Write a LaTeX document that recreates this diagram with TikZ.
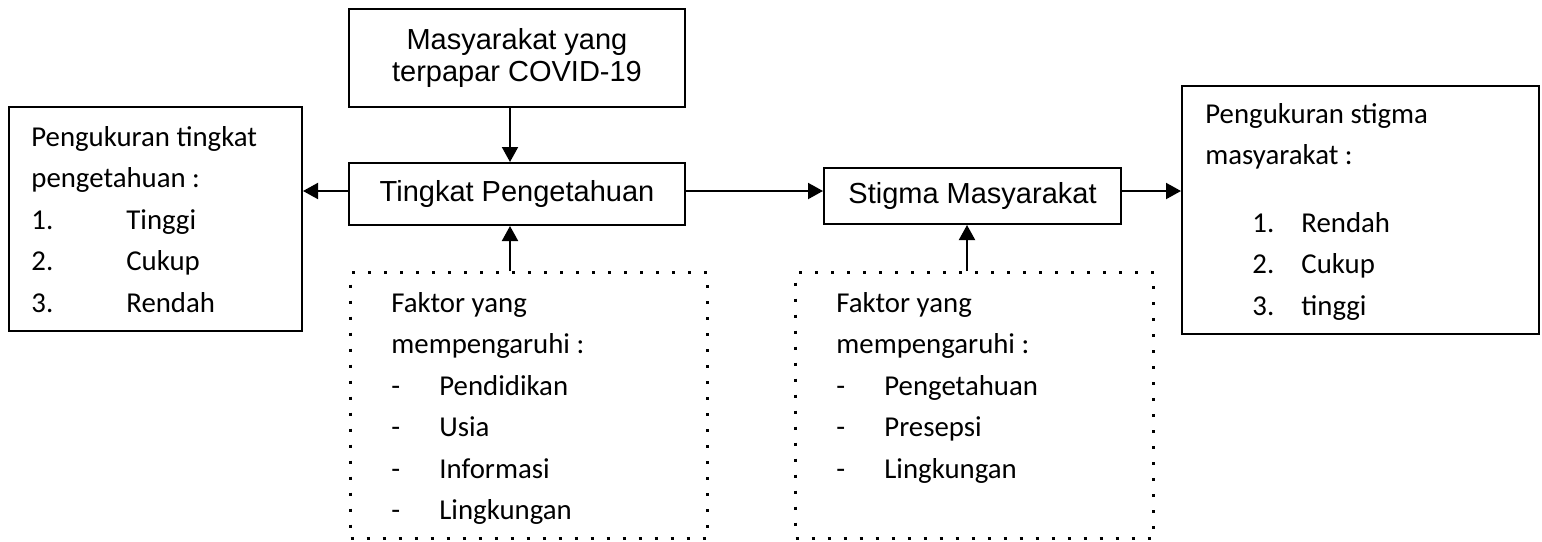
\documentclass[tikz,border=0pt]{standalone}
\usepackage{fontspec}
\newfontfamily\arialfont{Liberation Sans}
\newfontfamily\calibrifont{Carlito}
\usetikzlibrary{arrows.meta}
\newcommand{\nomor}[2]{\makebox[#1][l]{#2}}

\begin{document}
\begin{tikzpicture}[x=0.5pt,y=-0.5pt,
	box/.style={draw,line width=1pt,inner sep=0pt},
	titik/.style={draw,line width=1.5pt,dash pattern=on 1.5pt off 6.5pt,inner sep=0pt},
	judul/.style={font=\arialfont\fontsize{14.5}{16}\selectfont,align=center},
	daftar/.style={anchor=base west,inner sep=0pt,font=\calibrifont\fontsize{14.4}{20.75}\selectfont},
	panah/.style={-{Triangle[length=7.5pt,width=8pt]},line width=1pt}]
	
	\useasboundingbox (0,0) rectangle (1542,541);
	
	% kotak tengah
	\node[box,judul,minimum width=168pt,minimum height=49pt] (atas) at (517,58) {Masyarakat yang\\terpapar COVID-19};
	\node[box,judul,minimum width=168pt,minimum height=31pt] (tp) at (517,194) {Tingkat Pengetahuan};
	\node[box,judul,minimum width=148.5pt,minimum height=28pt] (sm) at (972.5,196) {Stigma Masyarakat};
	
	% kotak pengukuran
	\node[box,anchor=north west,minimum width=146.5pt,minimum height=112pt] (kiri) at (8,106) {};
	\node[daftar] (kiriT) at (31,146) {\parbox[t]{135pt}{Pengukuran tingkat\\ pengetahuan :\\
			\nomor{47.5pt}{1.}Tinggi\\ \nomor{47.5pt}{2.}Cukup\\ \nomor{47.5pt}{3.}Rendah}};
	\node[box,anchor=north west,minimum width=178.5pt,minimum height=124pt] (kanan) at (1181,85) {};
	\node[daftar] (kananT) at (1205,123) {\parbox[t]{160pt}{Pengukuran stigma\\ masyarakat :\\[13pt]
			\hspace*{23.5pt}\nomor{24.5pt}{1.}Rendah\\ \hspace*{23.5pt}\nomor{24.5pt}{2.}Cukup\\
			\hspace*{23.5pt}\nomor{24.5pt}{3.}tinggi}};
	
	% faktor
	\node[titik,anchor=north west,minimum width=178.5pt,minimum height=133pt] (faktorA) at (349,271) {};
	\node[daftar] (faktorAT) at (391,312) {\parbox[t]{150pt}{Faktor yang\\ mempengaruhi :\\
			\nomor{24pt}{-}Pendidikan\\ \nomor{24pt}{-}Usia\\ \nomor{24pt}{-}Informasi\\ \nomor{24pt}{-}Lingkungan}};
	\node[titik,anchor=north west,minimum width=179pt,minimum height=133pt] (faktorB) at (794,271) {};
	\node[daftar] (faktorBT) at (836,312) {\parbox[t]{150pt}{Faktor yang\\ mempengaruhi :\\
			\nomor{24pt}{-}Pengetahuan\\ \nomor{24pt}{-}Presepsi\\ \nomor{24pt}{-}Lingkungan}};
	
	\coordinate (kA) at (510,0);
	\coordinate (kB) at (967,0);
	\coordinate (lajur) at (0,191);
	
	\draw[panah] (atas.south -| kA) -- (tp.north -| kA);
	\draw[panah] (faktorA.north -| kA) -- (tp.south -| kA);
	\draw[panah] (faktorB.north -| kB) -- (sm.south -| kB);
	\draw[panah] (tp.west |- lajur) -- (kiri.east |- lajur);
	\draw[panah] (tp.east |- lajur) -- (sm.west |- lajur);
	\draw[panah] (sm.east |- lajur) -- (kanan.west |- lajur);
\end{tikzpicture}
\end{document}
